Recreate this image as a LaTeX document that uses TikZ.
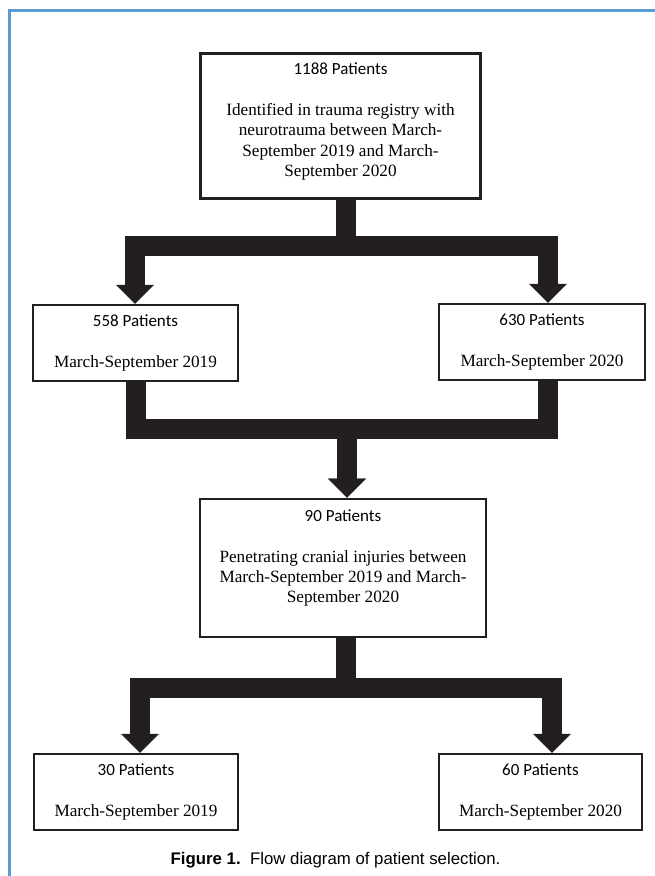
\documentclass[tikz,border=0pt]{standalone}
\usepackage{fontspec}
\setmainfont{Liberation Serif}
\newfontfamily\carl{Carlito}
\newfontfamily\capsans{Liberation Sans}
\usetikzlibrary{arrows.meta}
\definecolor{frameblue}{HTML}{5B9BD5}
\definecolor{flowblack}{HTML}{231F20}
\newcommand{\ttl}[1]{{\carl\fontsize{17}{20.3}\selectfont #1}}

\begin{document}
\begin{tikzpicture}[x=1pt,y=-1pt,
  every node/.style={align=center,font=\fontsize{17.2}{20.3}\selectfont,inner sep=0pt},
  box/.style={draw=flowblack,line width=2.4pt,minimum height=76pt},
  flow/.style={draw=flowblack,line width=20pt,line join=miter,-{Triangle[width=38pt,length=19pt,line width=0pt]}}]
  \useasboundingbox (0,0) rectangle (655,876);
  %frame
  \draw[frameblue,line width=3pt] (9,876) -- (9,10.5) -- (655,10.5);

  %top box
  \node[box,line width=3pt,minimum width=280pt,minimum height=145pt] (all) at (340.5,126)
    {\ttl{1188 Patients}\\[20.3pt]Identified in trauma registry with\\neurotrauma between March-\\September 2019 and March-\\September 2020\\[-8pt]\mbox{}};

  %split by year
  \node[box,minimum width=205pt] (y19) at (135.5,343) {\ttl{558 Patients}\\[20.3pt]March-September 2019};
  \node[box,minimum width=206pt] (y20) at (542,342) {\ttl{630 Patients}\\[20.3pt]March-September 2020};

  %penetrating injuries
  \node[box,line width=2.6pt,minimum width=286pt,minimum height=138pt] (pen) at (343,568)
    {\ttl{90 Patients}\\[20.3pt]Penetrating cranial injuries between\\March-September 2019 and March-\\September 2020\\[3pt]\mbox{}};

  %bottom boxes
  \node[box,minimum width=204pt] (p19) at (136,792) {\ttl{30 Patients}\\[20.3pt]March-September 2019};
  \node[box,minimum width=203pt] (p20) at (540.5,792) {\ttl{60 Patients}\\[20.3pt]March-September 2020};

  %caption
  \node (cap) at (335.5,860) {\capsans\fontsize{16.8}{20}\selectfont\textbf{Figure 1.}\ \ Flow diagram of patient selection.};

  %junctions
  \coordinate (s1) at (346,245.5);
  \coordinate (m1) at (347,429);
  \coordinate (s2) at (346,688);

  %connectors
  \draw[flow] (s1 |- all.south) -- (s1) -| ([xshift=-0.5pt]y19.north);
  \draw[flow] (s1 |- all.south) -- (s1) -| ([xshift=6pt]y20.north);
  \draw[flow] (y19.south) |- (m1) -- (m1 |- pen.north);
  \draw[flow] ([xshift=6pt]y20.south) |- (m1) -- (m1 |- pen.north);
  \draw[flow] (s2 |- pen.south) -- (s2) -| ([xshift=4pt]p19.north);
  \draw[flow] (s2 |- pen.south) -- (s2) -| ([xshift=11.5pt]p20.north);
\end{tikzpicture}
\end{document}
